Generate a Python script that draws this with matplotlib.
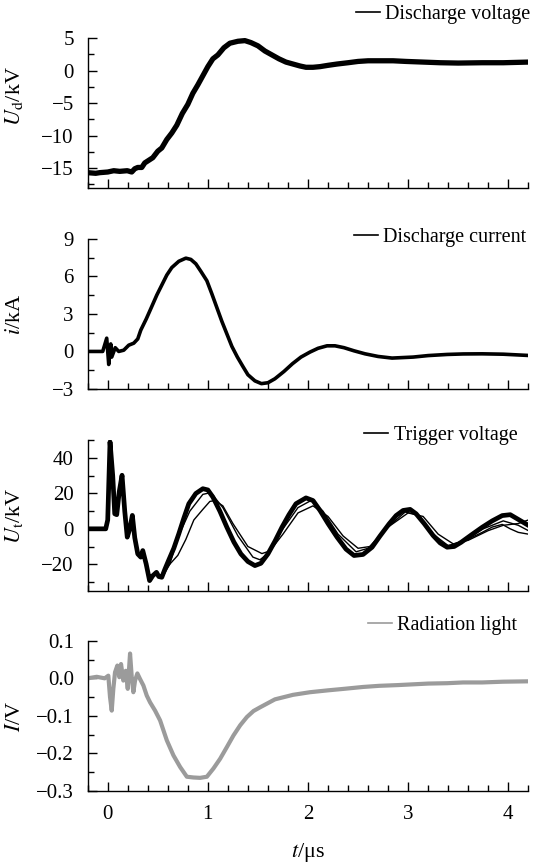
import matplotlib
matplotlib.use("Agg")
import matplotlib.pyplot as plt
from matplotlib.lines import Line2D
from matplotlib.ticker import MultipleLocator, FixedLocator, FuncFormatter

plt.rcParams['font.family'] = ['Liberation Serif', 'DejaVu Serif']
plt.rcParams['mathtext.fontset'] = 'stix'
plt.rcParams['font.size'] = 15

# ---- discharge voltage (kV) ----
ud_t = [-0.2, -0.12, -0.08, 0.0, 0.06, 0.12, 0.195, 0.24, 0.27, 0.30, 0.34, 0.37,
        0.40, 0.45, 0.50, 0.54, 0.59, 0.64, 0.69, 0.745, 0.80, 0.85, 0.90, 0.95,
        1.00, 1.05, 1.10, 1.16, 1.22, 1.30, 1.37, 1.43, 1.50, 1.57, 1.64, 1.71,
        1.78, 1.85, 1.92, 1.98, 2.05, 2.12, 2.20, 2.29, 2.40, 2.50, 2.60, 2.70,
        2.85, 2.98, 3.15, 3.32, 3.50, 3.74, 3.95, 4.2]
ud_v = [-15.7, -15.8, -15.7, -15.6, -15.4, -15.5, -15.4, -15.6, -15.1, -14.9, -14.9, -14.2,
        -13.9, -13.4, -12.4, -11.9, -10.6, -9.6, -8.4, -6.6, -5.2, -3.5, -2.2, -0.8,
        0.6, 1.8, 2.4, 3.5, 4.2, 4.5, 4.6, 4.3, 3.8, 3.0, 2.4, 1.8,
        1.3, 1.0, 0.7, 0.5, 0.5, 0.6, 0.8, 1.0, 1.2, 1.4, 1.5, 1.5,
        1.5, 1.4, 1.3, 1.2, 1.15, 1.2, 1.2, 1.3]

# ---- discharge current (kA) ----
i_t = [-0.2, -0.05, -0.01, 0.01, 0.03, 0.04, 0.075, 0.11, 0.16, 0.21, 0.26, 0.30,
       0.33, 0.385, 0.435, 0.49, 0.54, 0.59, 0.64, 0.71, 0.78, 0.83, 0.88, 0.93,
       0.99, 1.04, 1.09, 1.14, 1.19, 1.24, 1.295, 1.35, 1.40, 1.47, 1.535, 1.60,
       1.67, 1.76, 1.845, 1.93, 2.02, 2.10, 2.19, 2.27, 2.36, 2.46, 2.57, 2.70,
       2.84, 3.05, 3.20, 3.39, 3.55, 3.74, 3.95, 4.2]
i_v = [0.0, 0.0, 1.06, -1.04, 0.6, -0.45, 0.3, 0.0, 0.1, 0.5, 0.66, 1.0,
       1.7, 2.6, 3.5, 4.5, 5.3, 6.1, 6.7, 7.2, 7.45, 7.35, 7.0, 6.4,
       5.65, 4.6, 3.5, 2.4, 1.4, 0.4, -0.45, -1.2, -1.86, -2.35, -2.57, -2.5,
       -2.18, -1.6, -0.98, -0.45, -0.05, 0.25, 0.45, 0.45, 0.3, 0.05, -0.19, -0.4,
       -0.53, -0.45, -0.33, -0.24, -0.2, -0.19, -0.22, -0.32]

# ---- trigger voltage (kV), several shots ----
trig_t = [-0.2, -0.02, 0.0, 0.023, 0.05, 0.07, 0.09, 0.115, 0.143, 0.17, 0.195, 0.22,
          0.246, 0.27, 0.30, 0.33, 0.35, 0.384, 0.418, 0.45, 0.487, 0.51, 0.54, 0.57,
          0.607, 0.66, 0.71, 0.76, 0.81, 0.88, 0.95, 1.00, 1.05, 1.12, 1.19, 1.26,
          1.33, 1.40, 1.47, 1.53, 1.60, 1.67, 1.74, 1.81, 1.88, 1.98, 2.05, 2.12,
          2.20, 2.29, 2.38, 2.46, 2.55, 2.64, 2.72, 2.81, 2.88, 2.95, 3.02, 3.08,
          3.16, 3.25, 3.32, 3.39, 3.46, 3.53, 3.63, 3.74, 3.84, 3.94, 4.02, 4.08, 4.2]
trig_a = [0.0, 0.0, 5.0, 49.2, 30.0, 8.5, 8.0, 21.0, 30.3, 10.0, -4.7, 0.0,
          7.6, -5.0, -14.2, -16.0, -12.3, -19.9, -29.3, -26.5, -24.6, -27.0, -27.4, -23.0,
          -18.0, -11.0, -2.8, 6.0, 14.2, 20.0, 22.7, 22.0, 18.0, 10.0, 0.9, -7.5,
          -14.2, -18.5, -20.8, -19.5, -14.2, -7.0, 0.9, 8.0, 14.2, 17.5, 16.0, 10.4,
          3.0, -4.7, -11.5, -15.1, -14.5, -10.4, -4.0, 2.8, 7.5, 10.4, 11.0, 8.5,
          3.0, -3.8, -8.0, -10.4, -10.0, -7.6, -3.5, 0.9, 4.5, 7.5, 8.0, 6.0, 2.0]

trig_b_t = [0.55, 0.62, 0.70, 0.82, 0.95, 1.03, 1.15, 1.30, 1.45, 1.52, 1.60, 1.75,
            1.90, 2.03, 2.15, 2.30, 2.48, 2.60, 2.80, 2.97, 3.10, 3.25, 3.40, 3.55,
            3.75, 3.95, 4.10, 4.2]
trig_b = [-27.0, -20.0, -5.0, 10.0, 19.5, 20.5, 12.0, -4.0, -16.0, -17.5, -14.0, 0.0,
          12.0, 16.0, 10.0, -3.0, -13.0, -11.0, 1.0, 9.5, 8.0, -3.0, -9.5, -7.0,
          0.0, 4.5, 2.0, -1.0]

trig_c_t = [0.55, 0.62, 0.70, 0.78, 0.86, 0.95, 1.02, 1.07, 1.15, 1.25, 1.40, 1.54,
            1.62, 1.75, 1.90, 2.05, 2.20, 2.35, 2.50, 2.62, 2.80, 3.00, 3.15, 3.30,
            3.45, 3.60, 3.80, 3.95, 4.10, 4.2]
trig_c = [-25.0, -20.0, -15.0, -6.0, 5.0, 11.0, 15.5, 16.0, 13.0, 3.0, -10.0, -14.0,
          -12.5, -3.0, 9.0, 13.0, 7.0, -4.0, -11.0, -10.0, 1.0, 9.0, 7.0, -3.0,
          -8.5, -6.5, -1.0, 2.0, 3.0, 5.0]

trig_d_t = [3.46, 3.53, 3.63, 3.74, 3.84, 3.94, 4.02, 4.10, 4.2]
trig_d = [-10.0, -8.0, -5.0, -2.0, 1.0, 2.5, 0.0, -2.0, -3.0]

# ---- radiation light (V) ----
rl_t = [-0.2, -0.11, -0.03, 0.006, 0.023, 0.04, 0.056, 0.073, 0.096, 0.116, 0.133, 0.156,
        0.18, 0.2, 0.223, 0.24, 0.256, 0.273, 0.296, 0.323, 0.356, 0.39, 0.423, 0.473,
        0.523, 0.59, 0.656, 0.723, 0.79, 0.856, 0.923, 0.99, 1.056, 1.123, 1.19, 1.256,
        1.323, 1.39, 1.456, 1.523, 1.67, 1.85, 2.02, 2.2, 2.36, 2.55, 2.71, 2.9,
        3.05, 3.2, 3.39, 3.55, 3.74, 3.95, 4.2]
rl_v = [0.0, 0.004, 0.0, 0.007, -0.05, -0.086, -0.028, 0.016, 0.034, 0.003, 0.038, -0.006,
        0.02, -0.028, 0.066, 0.003, -0.037, -0.006, 0.013, -0.002, -0.019, -0.046, -0.064, -0.086,
        -0.112, -0.165, -0.205, -0.236, -0.262, -0.264, -0.265, -0.262, -0.24, -0.214, -0.183, -0.152,
        -0.125, -0.103, -0.087, -0.077, -0.056, -0.044, -0.037, -0.032, -0.028, -0.023, -0.02, -0.018,
        -0.016, -0.014, -0.013, -0.011, -0.011, -0.009, -0.008]

grey = '#9b9b9b'


def minus(v, pos, fmt='{:g}'):
    return fmt.format(v).replace('-', '\u2212')


fig = plt.figure(figsize=(5.39, 8.66), dpi=100)
left, width, height = 0.1627, 0.8174, 0.1735
bottoms = [0.7826, 0.5508, 0.3179, 0.0866]
axes = [fig.add_axes([left, b, width, height]) for b in bottoms]

for ax in axes:
    ax.set_xlim(-0.2, 4.2)
    ax.spines['top'].set_visible(False)
    ax.spines['right'].set_visible(False)
    for s in ('left', 'bottom'):
        ax.spines[s].set_linewidth(1.0)
    ax.xaxis.set_major_locator(MultipleLocator(1))
    ax.xaxis.set_minor_locator(MultipleLocator(0.2))
    ax.tick_params(which='major', direction='in', length=6.5, width=1.0, labelsize=15, pad=10)
    ax.tick_params(which='minor', direction='in', length=4, width=1.0)
    ax.tick_params(axis='y', which='major', pad=10)
    ax.yaxis.set_major_formatter(FuncFormatter(minus))
    if ax is not axes[-1]:
        ax.tick_params(axis='x', labelbottom=False)

ax1, ax2, ax3, ax4 = axes
lab_x = -0.142

ax1.plot(ud_t, ud_v, color='black', lw=3.8, solid_joinstyle='round')
ax1.set_ylim(-18.1, 5)
ax1.yaxis.set_major_locator(FixedLocator([5, 0, -5, -10, -15]))
ax1.yaxis.set_minor_locator(FixedLocator([2.5, -2.5, -7.5, -12.5, -17.5]))
ax1.set_ylabel(r'$U_\mathrm{d}$/kV', fontsize=16)
ax1.yaxis.set_label_coords(lab_x, 0.615)

ax2.plot(i_t, i_v, color='black', lw=2.6, solid_joinstyle='round')
ax2.set_ylim(-3, 9)
ax2.yaxis.set_major_locator(FixedLocator([9, 6, 3, 0, -3]))
ax2.yaxis.set_minor_locator(FixedLocator([7.5, 4.5, 1.5, -1.5]))
ax2.set_ylabel(r'$i$/kA', fontsize=16)
ax2.yaxis.set_label_coords(lab_x, 0.5)

ax3.plot(trig_t, trig_a, color='black', lw=3.4, solid_joinstyle='round')
ax3.plot(trig_b_t, trig_b, color='black', lw=1.0)
ax3.plot(trig_c_t, trig_c, color='black', lw=1.0)
ax3.plot(trig_d_t, trig_d, color='black', lw=1.0)
ax3.set_ylim(-35, 50)
ax3.yaxis.set_major_locator(FixedLocator([40, 20, 0, -20]))
ax3.yaxis.set_minor_locator(FixedLocator([50, 30, 10, -10, -30]))
ax3.set_ylabel(r'$U_\mathrm{t}$/kV', fontsize=16)
ax3.yaxis.set_label_coords(lab_x, 0.5)

ax4.plot(rl_t, rl_v, color=grey, lw=3.0, solid_joinstyle='round')
ax4.set_ylim(-0.3, 0.1)
ax4.yaxis.set_major_locator(FixedLocator([0.1, 0.0, -0.1, -0.2, -0.3]))
ax4.yaxis.set_minor_locator(FixedLocator([0.05, -0.05, -0.15, -0.25]))
ax4.yaxis.set_major_formatter(FuncFormatter(lambda v, p: minus(v, p, '{:.1f}')))
ax4.set_ylabel(r'$I$/V', fontsize=16)
ax4.yaxis.set_label_coords(lab_x, 0.5)
ax4.set_xticks([0, 1, 2, 3, 4])
ax4.set_xlabel(r'$t$/μs', fontsize=16, labelpad=12)

# series keys above each panel
keys = [(ax1, 'Discharge voltage', 'black', 1.005, 1.155),
        (ax2, 'Discharge current', 'black', 0.995, 1.01),
        (ax3, 'Trigger voltage', 'black', 0.975, 1.03),
        (ax4, 'Radiation light', grey, 0.975, 1.10)]
for ax, label, col, kx, ky in keys:
    ax.legend(handles=[Line2D([], [], color=col, lw=1.2)], labels=[label],
              loc='center right', bbox_to_anchor=(kx, ky), frameon=False,
              handlelength=1.2, handletextpad=0.25, borderpad=0, borderaxespad=0,
              fontsize=14.5)

fig.savefig('out.png', dpi=100)
